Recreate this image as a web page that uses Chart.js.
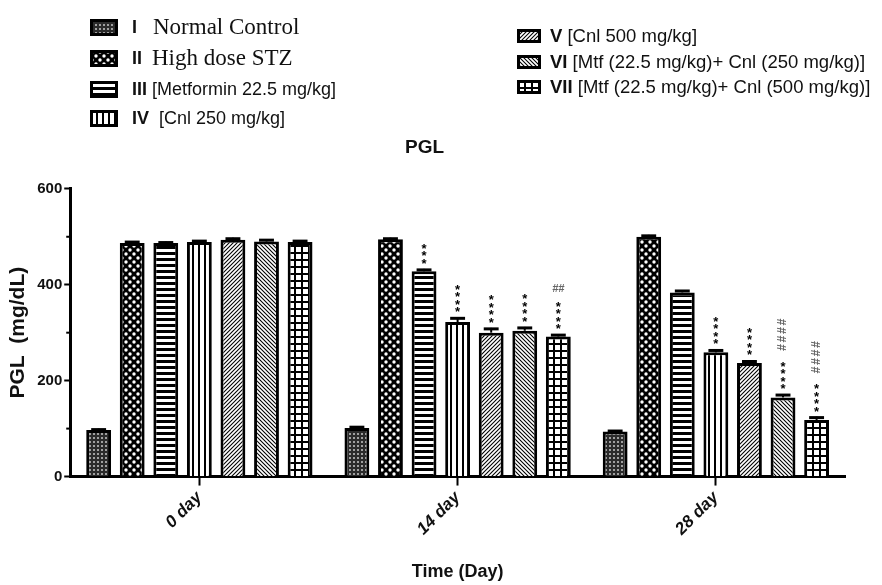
<!DOCTYPE html>
<html><head><meta charset="utf-8">
<script src="https://cdn.jsdelivr.net/npm/chart.js@4.4.0/dist/chart.umd.min.js"></script>
<style>
html,body{margin:0;padding:0;background:#fff;}
#wrap{position:relative;width:882px;height:585px;overflow:hidden;}
#c{position:absolute;left:0;top:0;}
.lg{position:absolute;height:26px;display:flex;align-items:center;white-space:nowrap;color:#111;font-family:"Liberation Sans",Arial,sans-serif;}
.lg canvas{display:block;flex:none;}
.num{font-weight:bold;}
.serif{font-family:"Liberation Serif","Times New Roman",serif;}
</style>
</head><body>
<div id="wrap">
<canvas id="c" width="882" height="585"></canvas>
<div id="legend"></div>
</div>
<script>
// ---- data ----
const categories = ['0 day', '14 day', '28 day'];
const legendNumerals = ['I', 'II', 'III', 'IV', 'V', 'VI', 'VII'];
const legendTexts = ['Normal Control', 'High dose STZ', '[Metformin 22.5 mg/kg]', '[Cnl 250 mg/kg]',
  '[Cnl 500 mg/kg]', '[Mtf (22.5 mg/kg)+ Cnl (250 mg/kg)]', '[Mtf (22.5 mg/kg)+ Cnl (500 mg/kg)]'];
const seriesI   = [97, 101, 94];
const seriesII  = [487, 495, 500];
const seriesIII = [487, 428, 384];
const seriesIV  = [489, 322, 259];
const seriesV   = [494, 300, 237];
const seriesVI  = [490, 304, 165];
const seriesVII = [489, 292, 118];
const errI   = [3, 4, 3];
const errII  = [4, 3, 4];
const errIII = [3, 5, 5];
const errIV  = [4, 10, 6];
const errV   = [4, 10, 5];
const errVI  = [5, 8, 7];
const errVII = [4, 5, 7];
// significance marks per category (one entry per series)
const stars0  = ['', '', '', '', '', '', ''];
const stars14 = ['', '', '***', '****', '****', '****', '****'];
const stars28 = ['', '', '', '****', '****', '****', '****'];
const hash0  = ['', '', '', '', '', '', ''];
const hash14 = ['', '', '', '', '', '', '##'];
const hash28 = ['', '', '', '', '', '####', '####'];
const yTickValues = [0, 200, 400, 600];

const seriesValues = [seriesI, seriesII, seriesIII, seriesIV, seriesV, seriesVI, seriesVII];
const seriesErrors = [errI, errII, errIII, errIV, errV, errVI, errVII];
const starsByCat = [stars0, stars14, stars28];
const hashByCat = [hash0, hash14, hash28];

// ---- patterns ----
function makeTile(kind) {
  const t = document.createElement('canvas');
  let c;
  switch (kind) {
    case 0: t.width = 4; t.height = 4; c = t.getContext('2d');
      c.fillStyle = '#2b2b2b'; c.fillRect(0, 0, 4, 4);
      c.fillStyle = '#a0a0a0'; c.fillRect(1, 1, 2, 2); break;
    case 1: t.width = 8; t.height = 8; c = t.getContext('2d');
      c.fillStyle = '#000'; c.fillRect(0, 0, 8, 8);
      c.fillStyle = '#fff';
      c.beginPath(); c.arc(2, 2, 1.7, 0, Math.PI * 2); c.fill();
      c.beginPath(); c.arc(6, 6, 1.7, 0, Math.PI * 2); c.fill(); break;
    case 2: t.width = 6; t.height = 6; c = t.getContext('2d');
      c.fillStyle = '#fff'; c.fillRect(0, 0, 6, 6);
      c.fillStyle = '#000'; c.fillRect(0, 0, 6, 3); break;
    case 3: t.width = 6; t.height = 6; c = t.getContext('2d');
      c.fillStyle = '#fff'; c.fillRect(0, 0, 6, 6);
      c.fillStyle = '#000'; c.fillRect(0, 0, 2, 6); break;
    case 4: case 5: t.width = 4; t.height = 4; c = t.getContext('2d');
      c.fillStyle = '#fff'; c.fillRect(0, 0, 4, 4);
      c.strokeStyle = '#000'; c.lineWidth = 1.1;
      if (kind === 4) {
        c.beginPath(); c.moveTo(-1, 5); c.lineTo(5, -1); c.stroke();
        c.beginPath(); c.moveTo(-3, 3); c.lineTo(3, -3); c.stroke();
        c.beginPath(); c.moveTo(1, 7); c.lineTo(7, 1); c.stroke();
      } else {
        c.beginPath(); c.moveTo(-1, -1); c.lineTo(5, 5); c.stroke();
        c.beginPath(); c.moveTo(-3, 1); c.lineTo(3, 7); c.stroke();
        c.beginPath(); c.moveTo(1, -3); c.lineTo(7, 3); c.stroke();
      } break;
    case 6: t.width = 7; t.height = 7; c = t.getContext('2d');
      c.fillStyle = '#fff'; c.fillRect(0, 0, 7, 7);
      c.fillStyle = '#000'; c.fillRect(0, 0, 7, 2); c.fillRect(0, 0, 2, 7); break;
  }
  return t;
}
const mainCtx = document.getElementById('c').getContext('2d');
const patterns = [0, 1, 2, 3, 4, 5, 6].map(k => mainCtx.createPattern(makeTile(k), 'repeat'));

// ---- legend (HTML) ----
function swatch(k, w, h) {
  const cv = document.createElement('canvas');
  cv.width = w; cv.height = h;
  const c = cv.getContext('2d');
  c.fillStyle = c.createPattern(makeTile(k), 'repeat');
  c.fillRect(0, 0, w, h);
  c.strokeStyle = '#000'; c.lineWidth = 4;
  c.strokeRect(1, 1, w - 2, h - 2);
  return cv;
}
const legendEl = document.getElementById('legend');
const leftRows = [27, 58, 89, 118];
const rightRows = [36, 62, 87];
for (let i = 0; i < 7; i++) {
  const row = document.createElement('div');
  row.className = 'lg';
  let sw;
  if (i < 4) {
    row.style.left = '90px'; row.style.top = (leftRows[i] - 13) + 'px';
    sw = swatch(i, 28, 17);
    sw.style.marginRight = '14px';
  } else {
    row.style.left = '517px'; row.style.top = (rightRows[i - 4] - 13) + 'px';
    sw = swatch(i, 24, 14);
    sw.style.marginRight = '9px';
  }
  row.appendChild(sw);
  const num = document.createElement('span');
  num.className = 'num';
  num.textContent = legendNumerals[i];
  const txt = document.createElement('span');
  if (i < 2) {
    num.style.fontSize = '18px';
    num.style.display = 'inline-block';
    num.style.width = (i === 0 ? '21px' : '20px');
    txt.className = 'serif';
    txt.style.fontSize = '23px';
    txt.textContent = legendTexts[i];
  } else if (i < 4) {
    num.style.fontSize = '18px';
    txt.style.fontSize = '18px';
    txt.textContent = (i === 3 ? '\u00a0\u00a0' : '\u00a0') + legendTexts[i];
  } else {
    num.style.fontSize = '18.5px';
    txt.style.fontSize = '18.5px';
    txt.textContent = '\u00a0' + legendTexts[i];
  }
  row.appendChild(num);
  row.appendChild(txt);
  legendEl.appendChild(row);
}

// ---- plugins ----
const errorBars = {
  id: 'errorBars',
  afterDatasetsDraw(chart) {
    const c = chart.ctx, y = chart.scales.y;
    c.save();
    c.strokeStyle = '#000';
    chart.data.datasets.forEach((ds, i) => {
      const meta = chart.getDatasetMeta(i);
      meta.data.forEach((bar, j) => {
        const top = y.getPixelForValue(seriesValues[i][j] + seriesErrors[i][j]);
        const half = bar.width * 0.3;
        c.lineWidth = 2;
        c.beginPath(); c.moveTo(bar.x, bar.y); c.lineTo(bar.x, top); c.stroke();
        c.lineWidth = 3;
        c.beginPath(); c.moveTo(bar.x - half, top + 1); c.lineTo(bar.x + half, top + 1); c.stroke();
      });
    });
    c.restore();
  }
};
const marks = {
  id: 'marks',
  afterDatasetsDraw(chart) {
    const c = chart.ctx, y = chart.scales.y;
    c.save();
    chart.data.datasets.forEach((ds, i) => {
      const meta = chart.getDatasetMeta(i);
      meta.data.forEach((bar, j) => {
        const s = starsByCat[j][i], h = hashByCat[j][i];
        if (!s && !h) return;
        const capTop = y.getPixelForValue(seriesValues[i][j] + seriesErrors[i][j]);
        let yy = capTop - 8;
        c.fillStyle = '#000';
        c.font = 'bold 13px "Liberation Sans", Arial, sans-serif';
        c.textAlign = 'center';
        c.textBaseline = 'alphabetic';
        for (let k = 0; k < s.length; k++) {
          c.fillText(s[k], bar.x, yy + 7);
          yy -= 7.5;
        }
        const starTop = yy + 3;
        if (h) {
          c.fillStyle = '#666';
          c.font = 'italic bold 11px "Liberation Sans", Arial, sans-serif';
          if (j === 1) {
            c.textBaseline = 'middle';
            c.fillText(h, bar.x, starTop - 10);
          } else {
            c.save();
            c.translate(bar.x, starTop - 8);
            c.rotate(-Math.PI / 2);
            c.textAlign = 'left';
            c.textBaseline = 'middle';
            c.font = 'italic bold 12px "Liberation Sans", Arial, sans-serif';
            let xx = 0;
            for (let k = 0; k < h.length; k++) { c.fillText(h[k], xx, 0); xx += 8.5; }
            c.restore();
          }
        }
      });
    });
    c.restore();
  }
};
const minorTicks = {
  id: 'minorTicks',
  afterDraw(chart) {
    const c = chart.ctx, y = chart.scales.y, left = chart.chartArea.left;
    c.save(); c.strokeStyle = '#000'; c.lineWidth = 2;
    for (let v = 100; v < 600; v += 200) {
      const p = y.getPixelForValue(v);
      c.beginPath(); c.moveTo(left - 4, p); c.lineTo(left, p); c.stroke();
    }
    c.restore();
  }
};

const FONT = '"Liberation Sans", Arial, sans-serif';
new Chart(mainCtx, {
  type: 'bar',
  data: {
    labels: categories,
    datasets: seriesValues.map((d, i) => ({
      label: legendNumerals[i] + ' ' + legendTexts[i],
      data: d,
      backgroundColor: patterns[i],
      borderColor: '#000',
      borderWidth: 3,
      categoryPercentage: 0.91,
      barPercentage: 0.74
    }))
  },
  options: {
    responsive: false,
    animation: false,
    layout: { padding: { top: 136, left: 4, right: 37, bottom: 2 } },
    plugins: {
      legend: { display: false },
      tooltip: { enabled: false },
      title: {
        display: true, text: 'PGL', color: '#111',
        font: { family: FONT, size: 19, weight: 'bold' },
        padding: { top: 0, bottom: 30 }
      }
    },
    scales: {
      x: {
        grid: { display: true, drawOnChartArea: false, offset: false, tickLength: 9, tickWidth: 2, tickColor: '#000' },
        border: { display: true, color: '#000', width: 3 },
        ticks: {
          minRotation: 45, maxRotation: 45, color: '#111', padding: 2,
          font: { family: FONT, size: 17, weight: 'bold', style: 'italic' }
        },
        title: {
          display: true, text: 'Time (Day)', color: '#111',
          font: { family: FONT, size: 18, weight: 'bold' },
          padding: { top: 20, bottom: 0 }
        }
      },
      y: {
        min: 0, max: 600,
        afterBuildTicks(scale) { scale.ticks = yTickValues.map(v => ({ value: v })); },
        grid: { drawOnChartArea: false, tickLength: 6, tickWidth: 2, tickColor: '#000' },
        border: { display: true, color: '#000', width: 3 },
        ticks: { color: '#111', padding: 2, font: { family: FONT, size: 15, weight: 'bold' } },
        title: {
          display: true, text: 'PGL  (mg/dL)', color: '#111',
          font: { family: FONT, size: 21, weight: 'bold' },
          padding: { top: 2, bottom: 4 }
        }
      }
    }
  },
  plugins: [errorBars, marks, minorTicks]
});
</script>
</body></html>
